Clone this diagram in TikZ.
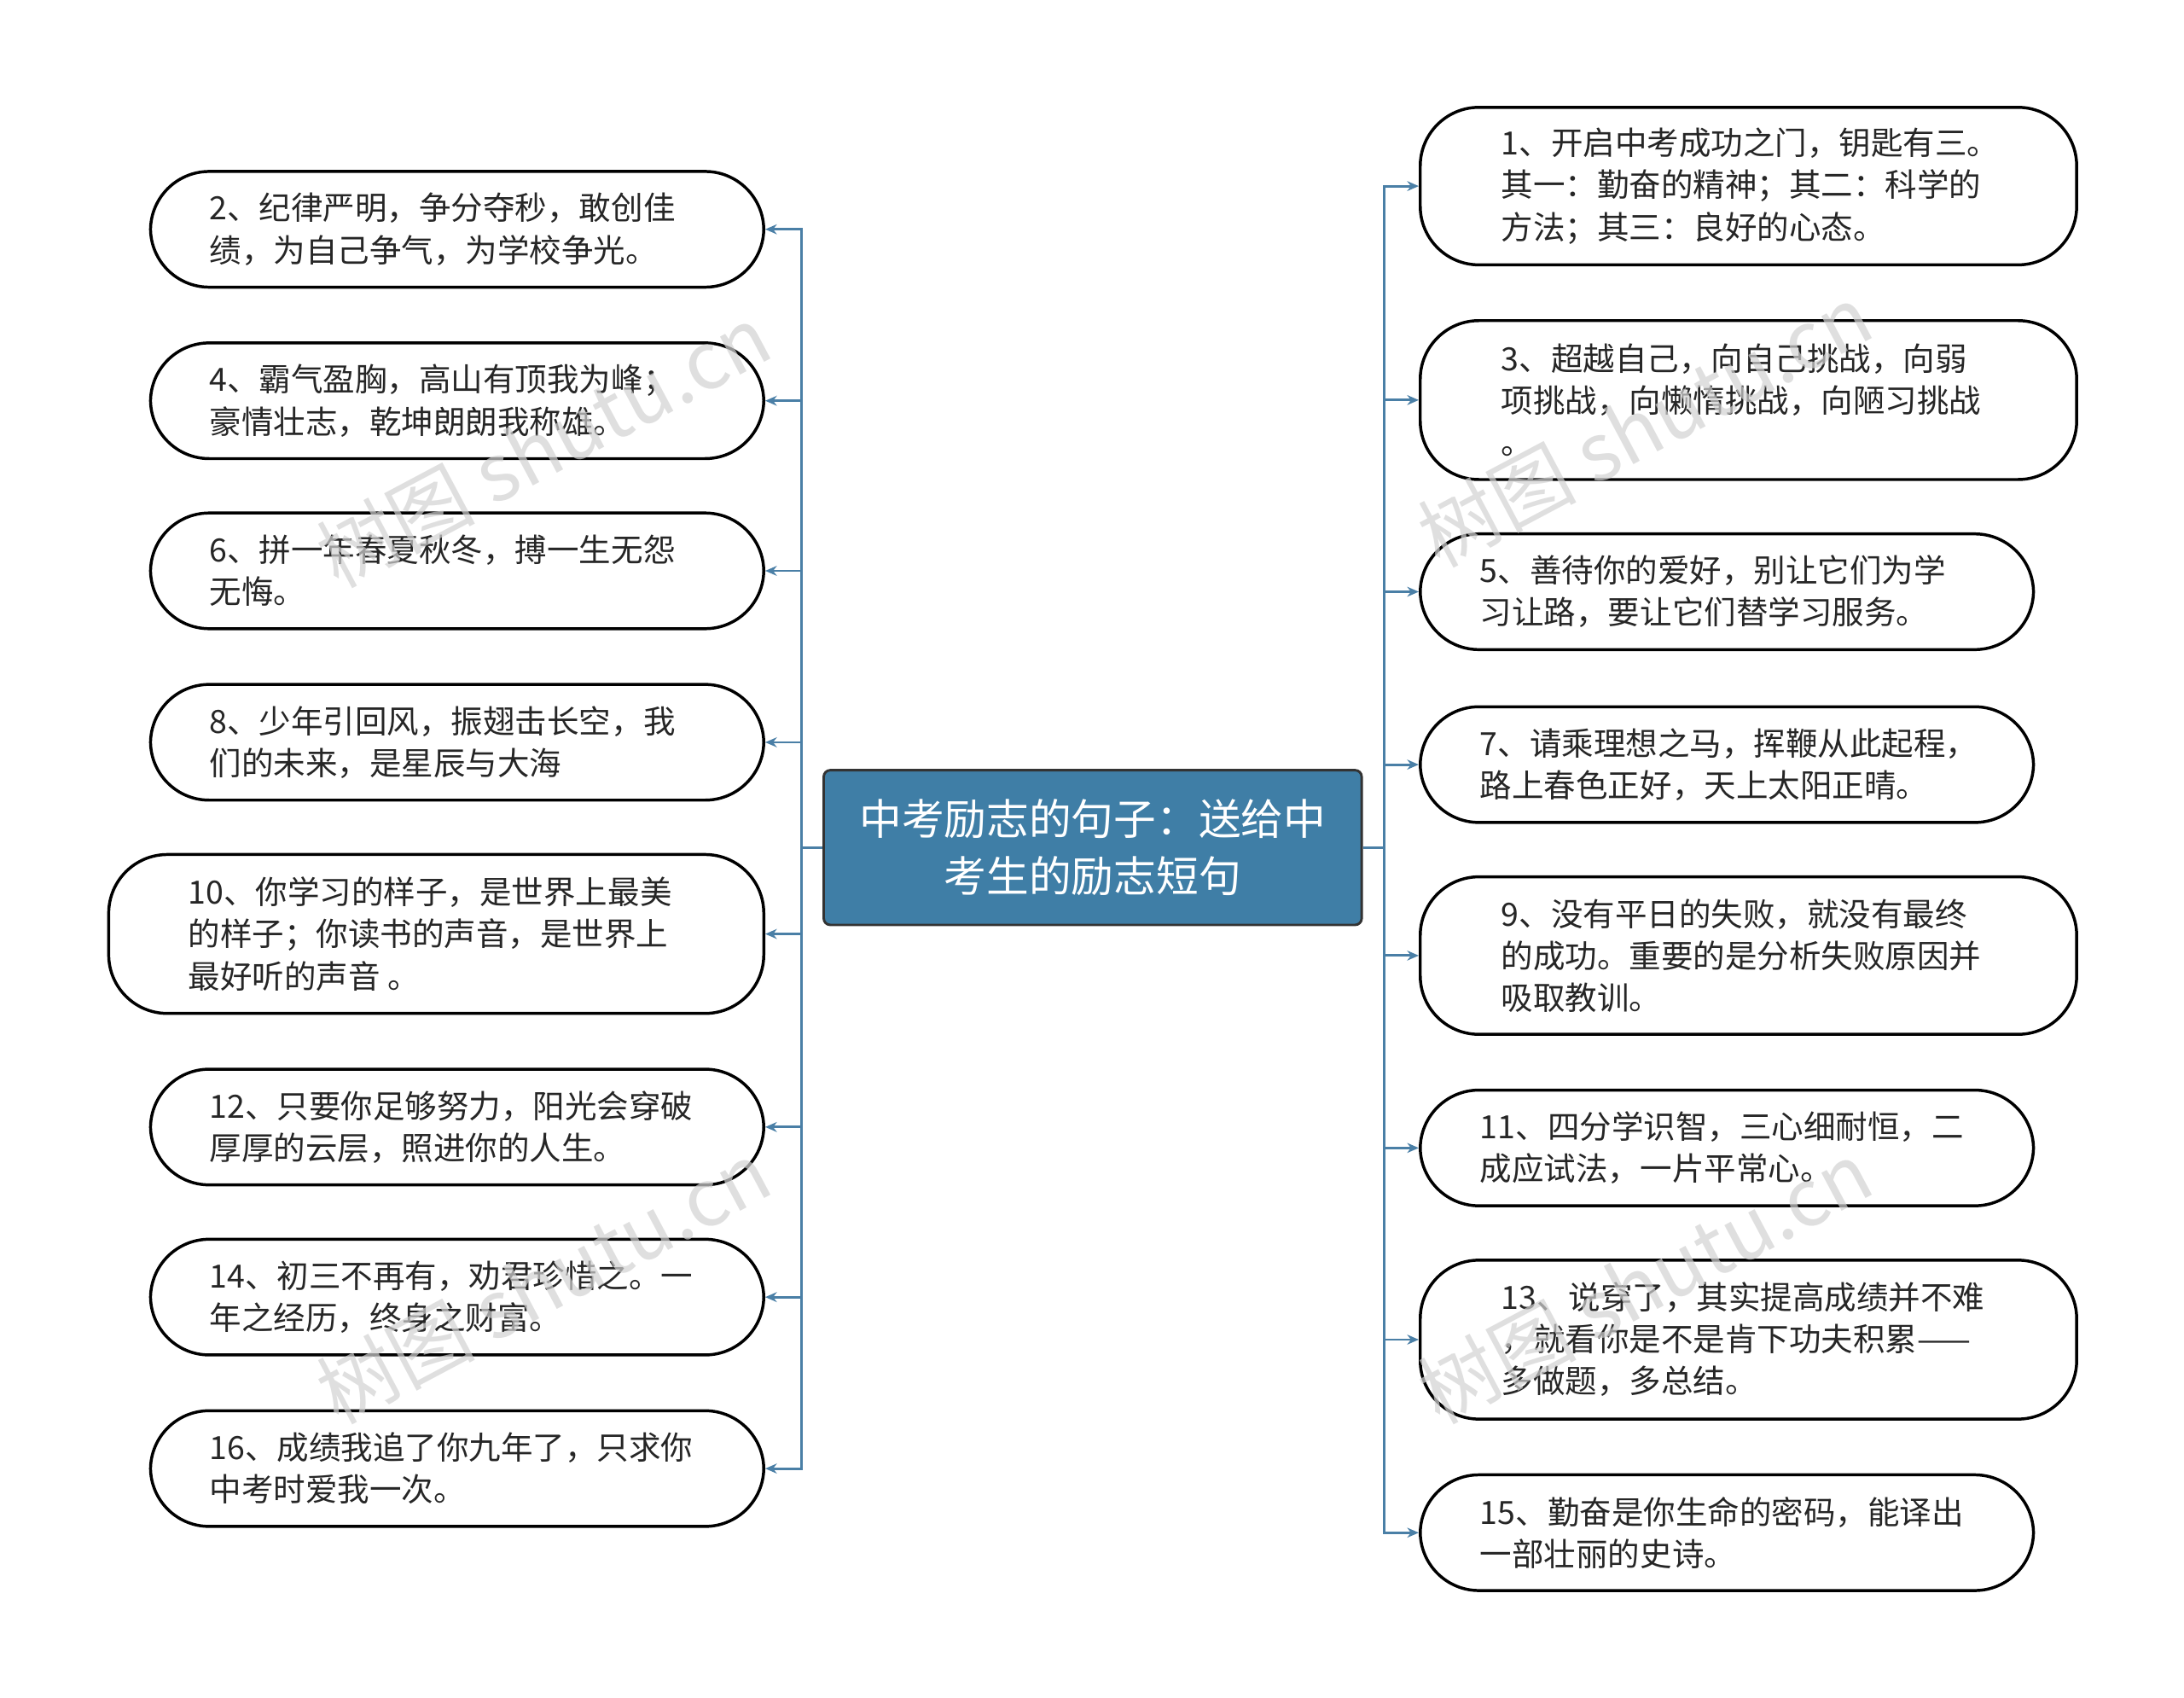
\documentclass[tikz,border=0pt]{standalone}
\usepackage{fontspec}
\setmainfont{Noto Sans CJK SC}
\usetikzlibrary{arrows.meta}
\definecolor{lnc}{HTML}{4A7FA6}
\definecolor{cfill}{HTML}{3F7EA6}
\def\u{0.0297}
\tikzset{
 box/.style={draw=black,line width=1.8pt,rounded corners=1.25cm,fill=white,inner sep=0pt},
 txt/.style={anchor=west,align=left,inner sep=0pt,font=\fontsize{19.4}{25.4}\selectfont,text=black!85},
 conn/.style={draw=lnc,line width=1.5pt,-{Stealth[length=7pt,width=6pt]}},
 wm/.style={text=gray!35,font=\fontsize{48}{50}\selectfont,rotate=28,opacity=0.7}
}
\begin{document}
\begin{tikzpicture}[x=\u cm,y=-\u cm]
\useasboundingbox (0,0) rectangle (1567,1218);
% center
\node[draw=black!80,line width=1.5pt,fill=cfill,rounded corners=4pt,minimum width=386*\u cm,minimum height=111*\u cm,align=center,text=white,font=\fontsize{25.7}{35}\selectfont] (c) at (784,608) {中考励志的句子：送给中\\考生的励志短句};
\coordinate (tl) at (575,608);
\coordinate (tr) at (993,608);
% left boxes
\foreach \n/\xa/\ya/\yb/\t in {
 2/107/122/207/{2、纪律严明，争分夺秒，敢创佳\\绩，为自己争气，为学校争光。},
 4/107/245/330/{4、霸气盈胸，高山有顶我为峰；\\豪情壮志，乾坤朗朗我称雄。},
 6/107/367/452/{6、拼一年春夏秋冬，搏一生无怨\\无悔。},
 8/107/490/575/{8、少年引回风，振翅击长空，我\\们的未来，是星辰与大海},
 10/77/612/728/{10、你学习的样子，是世界上最美\\的样子；你读书的声音，是世界上\\最好听的声音 。},
 12/107/766/851/{12、只要你足够努力，阳光会穿破\\厚厚的云层，照进你的人生。},
 14/107/888/973/{14、初三不再有，劝君珍惜之。一\\年之经历，终身之财富。},
 16/107/1011/1096/{16、成绩我追了你九年了，只求你\\中考时爱我一次。}}{
 \node[box,minimum width={(547-\xa)*\u cm},minimum height={(\yb-\ya-2)*\u cm}] (n\n) at ({(549+\xa)/2},{(\ya+\yb)/2}) {};
 \pgfmathsetmacro{\ins}{\xa<100?1.72:1.28}
 \node[txt] (t\n) at ([xshift=\ins cm]n\n.west) {\t};
 \draw[conn] (c.west) -- (tl) |- (n\n.east);
}
% right boxes
\foreach \n/\xb/\ya/\yb/\t in {
 1/1491/76/191/{1、开启中考成功之门，钥匙有三。\\其一：勤奋的精神；其二：科学的\\方法；其三：良好的心态。},
 3/1491/229/345/{3、超越自己，向自己挑战，向弱\\项挑战，向懒惰挑战，向陋习挑战\\。},
 5/1460/382/467/{5、善待你的爱好，别让它们为学\\习让路，要让它们替学习服务。},
 7/1460/506/591/{7、请乘理想之马，挥鞭从此起程，\\路上春色正好，天上太阳正晴。},
 9/1491/628/743/{9、没有平日的失败，就没有最终\\的成功。重要的是分析失败原因并\\吸取教训。},
 11/1460/781/866/{11、四分学识智，三心细耐恒，二\\成应试法，一片平常心。},
 13/1491/903/1019/{13、说穿了，其实提高成绩并不难\\，就看你是不是肯下功夫积累——\\多做题，多总结。},
 15/1460/1057/1142/{15、勤奋是你生命的密码，能译出\\一部壮丽的史诗。}}{
 \node[box,minimum width={(\xb-1020)*\u cm},minimum height={(\yb-\ya-2)*\u cm}] (n\n) at ({(\xb+1018)/2},{(\ya+\yb)/2}) {};
 \pgfmathsetmacro{\ins}{\xb>1480?1.75:1.3}
 \node[txt] (t\n) at ([xshift=\ins cm]n\n.west) {\t};
 \draw[conn] (c.east) -- (tr) |- (n\n.west);
}
% watermarks
\node[wm] (w1) at (390,320) {树图 shutu.cn};
\node[wm] (w2) at (390,920) {树图 shutu.cn};
\node[wm] (w3) at (1180,305) {树图 shutu.cn};
\node[wm] (w4) at (1180,920) {树图 shutu.cn};
\end{tikzpicture}
\end{document}
